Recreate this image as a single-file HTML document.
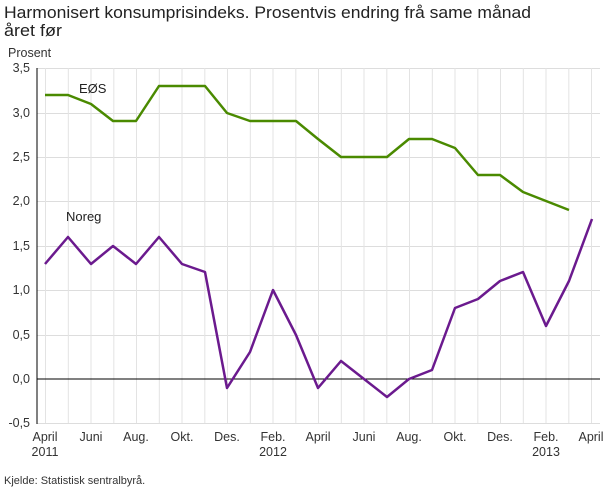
<!DOCTYPE html>
<html><head><meta charset="utf-8"><style>
body{margin:0;background:#fff;width:610px;height:488px;overflow:hidden;font-family:"Liberation Sans",sans-serif}
</style></head><body>
<svg width="610" height="488" xmlns="http://www.w3.org/2000/svg" font-family="Liberation Sans, sans-serif">
<text x="4" y="18" font-size="16.5" fill="#222" textLength="527" lengthAdjust="spacingAndGlyphs">Harmonisert konsumprisindeks. Prosentvis endring frå same månad</text>
<text x="4" y="36" font-size="16.5" fill="#222" textLength="58" lengthAdjust="spacingAndGlyphs">året før</text>
<text x="8" y="57" font-size="12.5" fill="#333">Prosent</text>
<g stroke="#ddd" stroke-width="1">
<line x1="37" x2="600" y1="68.5" y2="68.5"/><line x1="37" x2="600" y1="113.5" y2="113.5"/>
<line x1="37" x2="600" y1="157.5" y2="157.5"/><line x1="37" x2="600" y1="201.5" y2="201.5"/>
<line x1="37" x2="600" y1="246.5" y2="246.5"/><line x1="37" x2="600" y1="290.5" y2="290.5"/>
<line x1="37" x2="600" y1="335.5" y2="335.5"/><line x1="37" x2="600" y1="423.5" y2="423.5"/>
</g>
<g stroke="#e3e3e3" stroke-width="1">
<line x1="45.5" x2="45.5" y1="68" y2="423"/><line x1="68.3" x2="68.3" y1="68" y2="423"/>
<line x1="91" x2="91" y1="68" y2="423"/><line x1="113.8" x2="113.8" y1="68" y2="423"/>
<line x1="136.5" x2="136.5" y1="68" y2="423"/><line x1="159.3" x2="159.3" y1="68" y2="423"/>
<line x1="182" x2="182" y1="68" y2="423"/><line x1="204.8" x2="204.8" y1="68" y2="423"/>
<line x1="227.5" x2="227.5" y1="68" y2="423"/><line x1="250.3" x2="250.3" y1="68" y2="423"/>
<line x1="273" x2="273" y1="68" y2="423"/><line x1="295.8" x2="295.8" y1="68" y2="423"/>
<line x1="318.5" x2="318.5" y1="68" y2="423"/><line x1="341.3" x2="341.3" y1="68" y2="423"/>
<line x1="364" x2="364" y1="68" y2="423"/><line x1="386.8" x2="386.8" y1="68" y2="423"/>
<line x1="409.5" x2="409.5" y1="68" y2="423"/><line x1="432.3" x2="432.3" y1="68" y2="423"/>
<line x1="455" x2="455" y1="68" y2="423"/><line x1="477.8" x2="477.8" y1="68" y2="423"/>
<line x1="500.5" x2="500.5" y1="68" y2="423"/><line x1="523.3" x2="523.3" y1="68" y2="423"/>
<line x1="546" x2="546" y1="68" y2="423"/><line x1="568.8" x2="568.8" y1="68" y2="423"/>
<line x1="591.5" x2="591.5" y1="68" y2="423"/>
</g>
<line x1="37" x2="600" y1="379" y2="379" stroke="#000" stroke-width="1"/>
<line x1="37" x2="37" y1="68" y2="424" stroke="#000" stroke-width="1"/>
<g font-size="12.5" fill="#333" text-anchor="end">
<text x="30" y="72">3,5</text><text x="30" y="117">3,0</text><text x="30" y="161">2,5</text>
<text x="30" y="205">2,0</text><text x="30" y="250">1,5</text><text x="30" y="294">1,0</text>
<text x="30" y="339">0,5</text><text x="30" y="383">0,0</text><text x="30" y="427">-0,5</text>
</g>
<g font-size="12.5" fill="#333" text-anchor="middle">
<text x="45" y="441">April</text><text x="45" y="456">2011</text>
<text x="91" y="441">Juni</text><text x="136" y="441">Aug.</text><text x="182" y="441">Okt.</text>
<text x="227" y="441">Des.</text><text x="273" y="441">Feb.</text><text x="273" y="456">2012</text>
<text x="318" y="441">April</text><text x="364" y="441">Juni</text><text x="409" y="441">Aug.</text>
<text x="455" y="441">Okt.</text><text x="500" y="441">Des.</text><text x="546" y="441">Feb.</text>
<text x="546" y="456">2013</text><text x="591" y="441">April</text>
</g>
<polyline fill="none" stroke="#4a8a00" stroke-width="2.5" stroke-linejoin="round" points="45,95 68,95 91,104 113,121 136,121 159,86 182,86 205,86 227,113 250,121 273,121 296,121 318,139 341,157 364,157 387,157 409,139 432,139 455,148 478,175 500,175 523,192 546,201 569,210"/>
<polyline fill="none" stroke="#6b1a8e" stroke-width="2.5" stroke-linejoin="round" points="45,264 68,237 91,264 113,246 136,264 159,237 182,264 205,272 227,388 250,352 273,290 296,335 318,388 341,361 364,379 387,397 409,379 432,370 455,308 478,299 500,281 523,272 546,326 569,281 592,219"/>
<text x="79" y="93" font-size="13" fill="#222">EØS</text>
<text x="66" y="221" font-size="13" fill="#222">Noreg</text>
<text x="4" y="484" font-size="11" fill="#333">Kjelde: Statistisk sentralbyrå.</text>
</svg>
</body></html>
